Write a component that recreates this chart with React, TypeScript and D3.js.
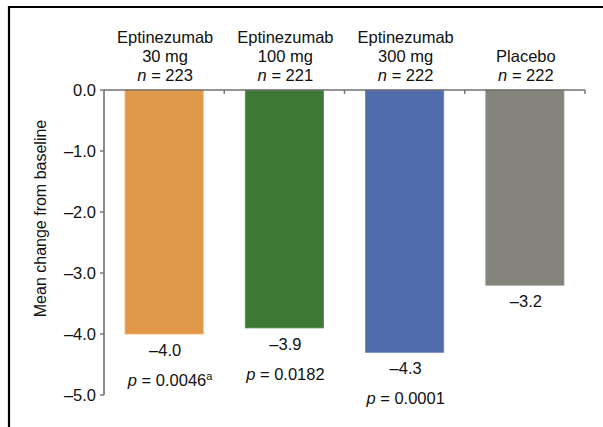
import React from "react";
import * as d3 from "d3";

const categories = ["Eptinezumab 30 mg", "Eptinezumab 100 mg", "Eptinezumab 300 mg", "Placebo"];
const headerLine1 = ["Eptinezumab", "Eptinezumab", "Eptinezumab", ""];
const headerLine2 = ["30 mg", "100 mg", "300 mg", "Placebo"];
const nValues = ["223", "221", "222", "222"];
const values = [-4.0, -3.9, -4.3, -3.2];
const valueLabels = ["\u20134.0", "\u20133.9", "\u20134.3", "\u20133.2"];
const pValues = ["0.0046", "0.0182", "0.0001", ""];
const pSuperscripts = ["a", "", "", ""];
const colors = ["#E0994A", "#3E7A36", "#506CAD", "#84837C"];
const yTicks = [0, -1, -2, -3, -4, -5];
const yTickLabels = ["0.0", "\u20131.0", "\u20132.0", "\u20133.0", "\u20134.0", "\u20135.0"];

const W = 603;
const H = 427;
const FONT = "'Liberation Sans', Arial, Helvetica, sans-serif";
const FS = 16.5;

export default function App() {
  const x = d3.scaleBand<string>().domain(categories).range([104, 585]).paddingInner(0.35).paddingOuter(0.175);
  const xb = d3.scaleBand<string>().domain(categories).range([104, 585]);
  const y = d3.scaleLinear().domain([0, -5]).range([90, 395]);
  const axisColor = "#707070";

  return (
    <svg width={W} height={H} style={{ position: "absolute", left: 0, top: 0, background: "#fff" }} fontFamily={FONT}>
      {/* frame */}
      <path d={`M9,${H} L9,7 L${W},7`} fill="none" stroke="#000" strokeWidth={2.2} />

      {/* bars */}
      {categories.map((c, i) => (
        <rect
          key={c}
          x={x(c)!}
          y={y(0)}
          width={x.bandwidth()}
          height={y(values[i]) - y(0)}
          fill={colors[i]}
          stroke={d3.color(colors[i])!.brighter(0.4).toString()}
          strokeWidth={0.8}
        />
      ))}

      {/* y axis */}
      <line x1={104} x2={104} y1={y(0)} y2={y(-5)} stroke={axisColor} strokeWidth={1.6} />
      {yTicks.map((t, i) => (
        <g key={t}>
          <line x1={100} x2={104} y1={y(t)} y2={y(t)} stroke={axisColor} strokeWidth={1.4} />
          <text x={96} y={y(t)} dy="0.36em" textAnchor="end" fontSize={FS} fill="#111">
            {yTickLabels[i]}
          </text>
        </g>
      ))}
      {/* top category axis */}
      <line x1={104} x2={585} y1={y(0)} y2={y(0)} stroke={axisColor} strokeWidth={1.6} />
      {categories.map((c) => (
        <line key={c} x1={xb(c)! + xb.bandwidth()} x2={xb(c)! + xb.bandwidth()} y1={y(0)} y2={y(0) + 4} stroke={axisColor} strokeWidth={1.4} />
      ))}

      {/* y axis title */}
      <text transform={`translate(46,${(y(0) + y(-5)) / 2 - 24}) rotate(-90)`} textAnchor="middle" fontSize={16} fill="#111">
        Mean change from baseline
      </text>

      {/* headers */}
      {categories.map((c, i) => {
        const cx = xb(c)! + xb.bandwidth() / 2 + 1;
        return (
          <g key={c} fontSize={FS} fill="#111" textAnchor="middle">
            {headerLine1[i] && <text x={cx} y={43}>{headerLine1[i]}</text>}
            <text x={cx} y={62}>{headerLine2[i]}</text>
            <text x={cx} y={81}>
              <tspan fontStyle="italic">n</tspan> = {nValues[i]}
            </text>
          </g>
        );
      })}

      {/* value labels and p-values */}
      {categories.map((c, i) => {
        const cx = xb(c)! + xb.bandwidth() / 2 + 1;
        const ly = y(values[i]) + 16;
        return (
          <g key={c} fontSize={FS} fill="#111">
            <text x={cx} y={ly} dy="0.36em" textAnchor="middle">{valueLabels[i]}</text>
            {pValues[i] && (
              <text x={cx + (pSuperscripts[i] ? 5 : 0)} y={ly + 30} dy="0.36em" textAnchor="middle">
                <tspan fontStyle="italic">p</tspan> = {pValues[i]}
                {pSuperscripts[i] && (
                  <tspan fontSize={11} dy="-0.55em">{pSuperscripts[i]}</tspan>
                )}
              </text>
            )}
          </g>
        );
      })}
    </svg>
  );
}
